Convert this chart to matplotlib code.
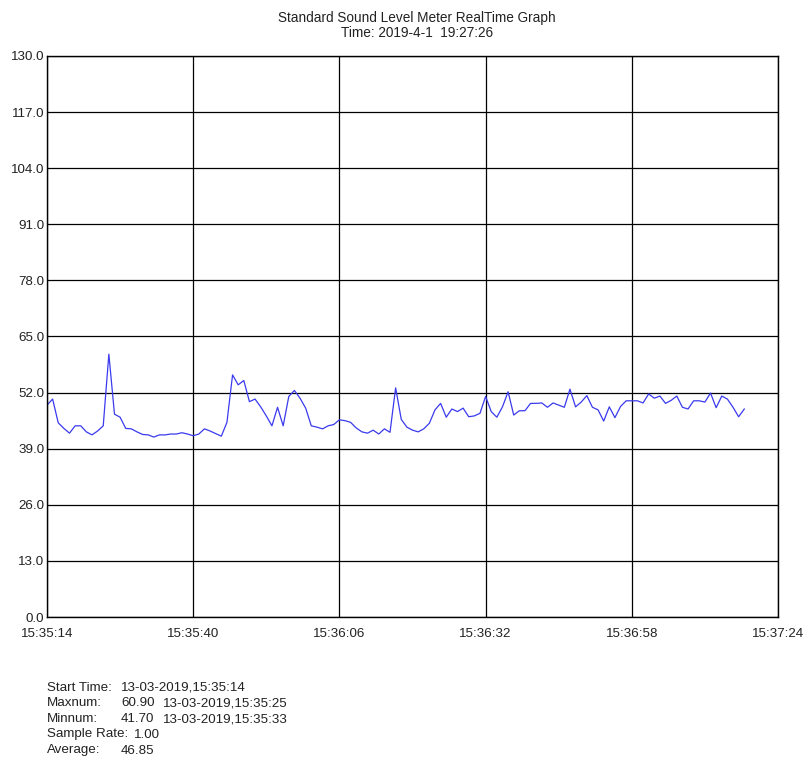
import matplotlib
matplotlib.use("Agg")
import matplotlib.pyplot as plt
import numpy as np

plt.rcParams['font.family'] = ['Liberation Sans', 'DejaVu Sans']

# Sound level readings, one per second starting 15:35:14
levels = [
    49.1, 50.5, 45.0, 43.7, 42.6, 44.3, 44.3, 42.9, 42.2, 43.1,
    44.3, 60.9, 47.0, 46.3, 43.7, 43.6, 42.9, 42.3, 42.2, 41.7,
    42.2, 42.2, 42.4, 42.4, 42.7, 42.4, 42.0, 42.4, 43.6, 43.1,
    42.5, 41.9, 45.1, 56.1, 53.8, 54.8, 49.9, 50.5, 48.7, 46.6,
    44.3, 48.6, 44.3, 51.1, 52.5, 50.7, 48.4, 44.3, 44.0, 43.6,
    44.3, 44.6, 45.7, 45.5, 45.1, 43.8, 42.9, 42.6, 43.3, 42.4,
    43.6, 42.8, 53.1, 45.8, 44.0, 43.3, 42.9, 43.6, 44.9, 48.0,
    49.5, 46.3, 48.2, 47.6, 48.4, 46.4, 46.6, 47.2, 51.1, 47.6,
    46.3, 48.7, 52.2, 46.8, 47.8, 47.8, 49.5, 49.5, 49.6, 48.6,
    49.6, 49.1, 48.6, 52.8, 48.7, 49.8, 51.3, 48.6, 48.0, 45.4,
    48.7, 46.2, 48.8, 50.1, 50.1, 50.1, 49.6, 51.7, 50.7, 51.2,
    49.5, 50.2, 51.2, 48.6, 48.2, 50.1, 50.1, 49.8, 51.9, 48.5,
    51.2, 50.5, 48.6, 46.4, 48.2,
]
seconds = list(range(len(levels)))

x_tick_secs = [0, 26, 52, 78, 104, 130]
x_tick_labels = ["15:35:14", "15:35:40", "15:36:06", "15:36:32", "15:36:58", "15:37:24"]
y_ticks = [0, 13, 26, 39, 52, 65, 78, 91, 104, 117, 130]
y_tick_labels = ["%.1f" % v for v in y_ticks]

title_lines = ["Standard Sound Level Meter RealTime Graph", "Time: 2019-4-1  19:27:26"]
info_labels = ["Start Time:", "Maxnum:", "Minnum:", "Sample Rate:", "Average:"]
info_values = ["13-03-2019,15:35:14", "60.90", "41.70", "1.00", "46.85"]
info_stamps = ["", "13-03-2019,15:35:25", "13-03-2019,15:35:33", "", ""]

W, H = 807, 760
TXT = "#222222"
fig = plt.figure(figsize=(W / 100, H / 100), dpi=100)
left, right, top, bottom = 47, 778, 56, 617
ax = fig.add_axes([left / W, 1 - bottom / H, (right - left) / W, (bottom - top) / H])

ax.plot(seconds, levels, color="#3a3aee", linewidth=0.9)
ax.set_xlim(0, 130)
ax.set_ylim(0, 130)
ax.set_xticks(x_tick_secs)
ax.set_xticklabels(x_tick_labels)
ax.set_yticks(y_ticks)
ax.set_yticklabels(y_tick_labels)
ax.tick_params(axis="both", length=0, labelsize=9.6, colors=TXT)
ax.tick_params(axis="x", pad=8)
ax.tick_params(axis="y", pad=2)
ax.grid(True, color="black", linewidth=0.9)
for s in ax.spines.values():
    s.set_color("black")
    s.set_linewidth(1.0)

fig.text(417 / W, 1 - 18 / H, title_lines[0], ha="center", va="center", fontsize=9.8, color=TXT)
fig.text(417 / W, 1 - 33 / H, title_lines[1], ha="center", va="center", fontsize=9.8, color=TXT)

ys = [687, 702.5, 718, 733.5, 749.5]
for lab, val, stamp, yp in zip(info_labels, info_values, info_stamps, ys):
    yy = 1 - (yp + 4) / H
    fig.text(47 / W, yy, lab, ha="left", va="baseline", fontsize=9.6, color=TXT)
    vx = 121 if lab != "Sample Rate:" else 134
    fig.text(vx / W, yy, val, ha="left", va="baseline", fontsize=9.6, color=TXT)
    if stamp:
        fig.text(163 / W, yy, stamp, ha="left", va="baseline", fontsize=9.6, color=TXT)

fig.savefig("out.png", dpi=100)
